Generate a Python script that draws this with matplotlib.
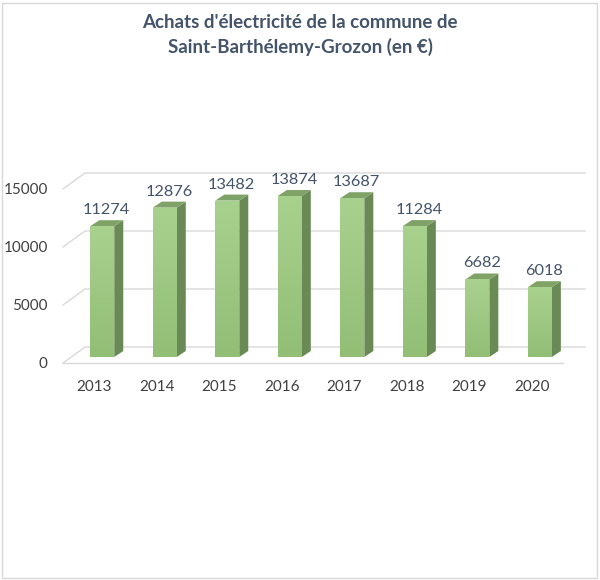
import numpy as np
import matplotlib.pyplot as plt
from matplotlib.patches import Polygon, Rectangle
from matplotlib.colors import LinearSegmentedColormap

years = ['2013', '2014', '2015', '2016', '2017', '2018', '2019', '2020']
values = [11274, 12876, 13482, 13874, 13687, 11284, 6682, 6018]
yticks = [0, 5000, 10000, 15000]
title = "Achats d'électricité de la commune de\nSaint-Barthélemy-Grozon (en €)"

plt.rcParams['font.family'] = ['Lato', 'DejaVu Sans']

W, H = 600, 580
fig = plt.figure(figsize=(W / 100, H / 100), dpi=100)

# axes box in pixels (front plane)
px_l, px_r, px_b, px_t = 63, 590, 363, 150
ax = fig.add_axes([px_l / W, 1 - px_b / H, (px_r - px_l) / W, (px_b - px_t) / H])
xmin, xmax = -0.5, 7.93
ymin, ymax = 0, 18360
ax.set_xlim(xmin, xmax)
ax.set_ylim(ymin, ymax)
sx = (px_r - px_l) / (xmax - xmin)
sy = (px_b - px_t) / (ymax - ymin)


def off(dx_px, dy_px):
    # pixel offset -> data offset
    return dx_px / sx, dy_px / sy


grid_c = '#D9D9D9'
wdx, wdy = off(22, 16)
x_front_end = len(years) - 0.5

# back wall gridlines with slanted left side wall
for v in yticks:
    ax.plot([xmin, xmin + wdx, x_front_end + wdx], [v, v + wdy, v + wdy],
            color=grid_c, lw=1, zorder=1, clip_on=False)
ax.plot([xmin, x_front_end], [0, 0], color=grid_c, lw=1, zorder=1, clip_on=False)

# bars
bw = 24 / sx
fdx, fdy = off(8, 6)
ddx, ddy = off(9, 6)
front_cmap = LinearSegmentedColormap.from_list('g', ['#A9D18E', '#92BE76'])
for i, v in enumerate(values):
    left = i + fdx - bw / 2
    b0 = fdy
    top = b0 + v
    side = Polygon([(left + bw, b0), (left + bw + ddx, b0 + ddy),
                    (left + bw + ddx, top + ddy), (left + bw, top)],
                   closed=True, fc='#6A8A55', ec='none', zorder=3)
    cap = Polygon([(left, top), (left + bw, top), (left + bw + ddx, top + ddy),
                   (left + ddx, top + ddy)],
                  closed=True, fc='#7FA266', ec='none', zorder=3)
    ax.add_patch(side)
    ax.add_patch(cap)
    rect = Rectangle((left, b0), bw, v, fc='#9DC683', ec='none', zorder=3)
    ax.add_patch(rect)
    grad = ax.imshow(np.linspace(0, 1, 64).reshape(-1, 1), cmap=front_cmap,
                     extent=(left, left + bw, b0, top), origin='upper',
                     aspect='auto', zorder=4)
    grad.set_clip_path(rect)
    ax.text(left + (bw + ddx) / 2, top + ddy + 10 / sy, str(v),
            ha='center', va='center', fontsize=11.8, color='#44546A', zorder=5)

ax.set_xlim(xmin, xmax)
ax.set_ylim(ymin, ymax)

ax.set_xticks(range(len(years)))
ax.set_xticklabels(years)
ax.set_yticks(yticks)
ax.tick_params(axis='both', length=0, labelsize=11, labelcolor='#404040')
ax.tick_params(axis='y', pad=11)
ax.tick_params(axis='x', pad=12)
for s in ax.spines.values():
    s.set_visible(False)
ax.patch.set_alpha(0)

fig.text(0.5, 1 - 35 / H, title, ha='center', va='center', fontsize=13.5,
         fontweight='bold', color='#44546A', linespacing=1.5)

# light frame round the picture
fig.patches.append(Rectangle((2 / W, 2 / H), 1 - 5 / W, 1 - 5 / H, transform=fig.transFigure,
                             fill=False, ec='#D9D9D9', lw=1))

fig.savefig('out.png', dpi=100)
